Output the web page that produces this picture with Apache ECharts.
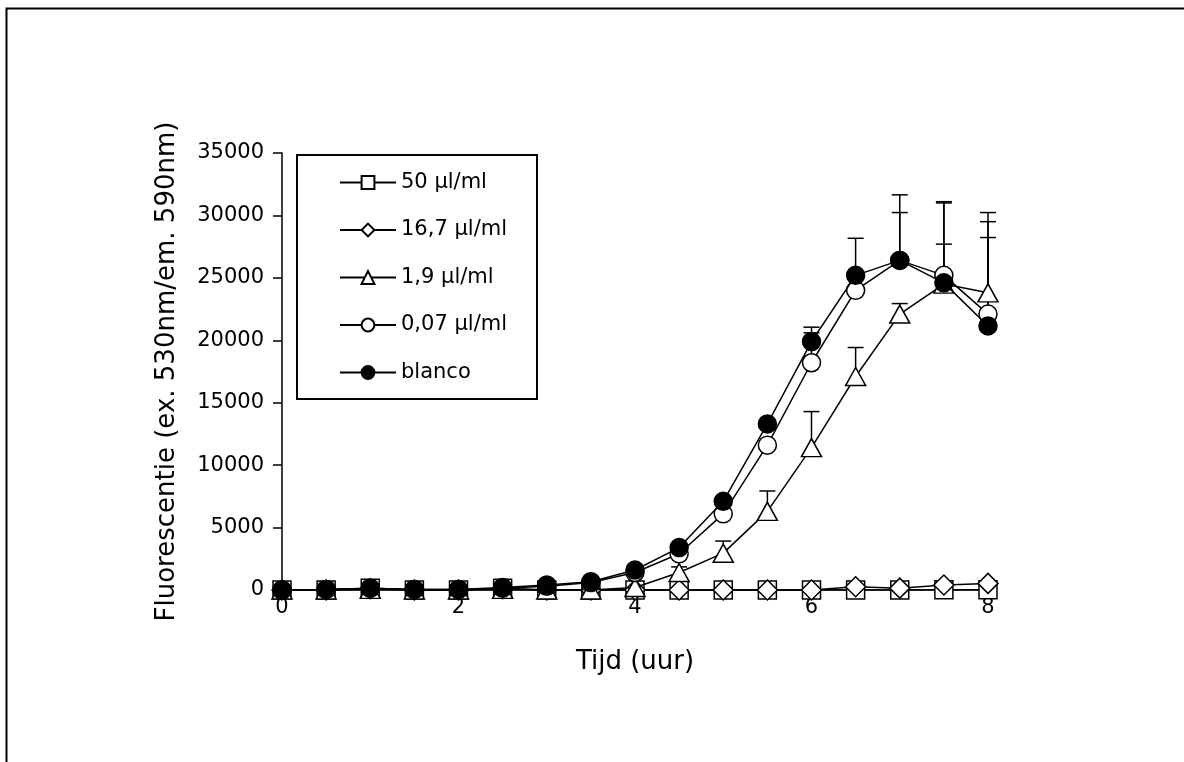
<!DOCTYPE html>
<html><head><meta charset="utf-8">
<script src="https://cdn.jsdelivr.net/npm/echarts@6/dist/echarts.min.js"></script>
<style>html,body{margin:0;padding:0;background:#fff}#c{width:1184px;height:762px}</style>
</head><body><div id="c"></div>
<script>
const times = [0,0.5,1,1.5,2,2.5,3,3.5,4,4.5,5,5.5,6,6.5,7,7.5,8];
const names = ['50 µl/ml','16,7 µl/ml','1,9 µl/ml','0,07 µl/ml','blanco'];
const v50  = [0,0,140,0,0,140,0,0,0,0,0,0,0,0,0,30,30];
const v16  = [0,0,100,0,0,100,0,0,0,0,0,0,0,260,150,400,530];
const v19  = [0,0,50,0,0,50,0,0,200,1400,2950,6300,11400,17100,22100,24500,23800];
const v007 = [0,50,150,50,50,150,300,600,1400,2900,6100,11600,18200,24000,26400,25200,22100];
const vBl  = [0,50,150,50,50,200,400,660,1600,3400,7100,13300,19900,25200,26400,24600,21150];
const e19  = [0,0,0,0,0,0,0,0,0,450,970,1630,2890,2320,840,3200,6430];
const e007 = [0,0,0,0,0,0,0,0,0,0,0,0,2400,1200,3830,5800,7400];
const eBl  = [0,0,0,0,0,0,0,0,0,0,0,0,1150,2970,5250,6500,7080];
const yTicks = [0,5000,10000,15000,20000,25000,30000,35000];

const FONT = 'DejaVu Sans';
const chart = echarts.init(document.getElementById('c'), null, {renderer:'canvas'});

function lineSeries(name, vals, symbol, size, fill, z) {
  return {
    name, type:'line', data: times.map((t,i)=>[t, vals[i]]),
    symbol, symbolSize: size, showAllSymbol: true, z,
    lineStyle:{color:'#000', width:1.5},
    itemStyle:{color: fill, borderColor:'#000', borderWidth:1.5, opacity:1},
    emphasis:{disabled:true}
  };
}
function errSeries(vals, errs, z) {
  return {
    type:'custom', z, silent:true,
    data: times.map((t,i)=>[t, vals[i], vals[i]+errs[i]]).filter(d=>d[2]>d[1]),
    encode:{x:0, y:[1,2]},
    renderItem(params, api){
      const p0 = api.coord([api.value(0), api.value(1)]);
      const p1 = api.coord([api.value(0), api.value(2)]);
      const w = 8;
      return {type:'group', children:[
        {type:'line', shape:{x1:p0[0],y1:p0[1],x2:p1[0],y2:p1[1]}, style:{stroke:'#000',lineWidth:1.5}},
        {type:'line', shape:{x1:p1[0]-w,y1:p1[1],x2:p1[0]+w,y2:p1[1]}, style:{stroke:'#000',lineWidth:1.5}}
      ]};
    }
  };
}

chart.setOption({
  animation:false,
  backgroundColor:'#fff',
  textStyle:{fontFamily:FONT, color:'#000'},
  grid:{left:282, right:1184-988, top:153, bottom:762-590, containLabel:false},
  xAxis:{
    type:'value', min:0, max:8, interval:2,
    axisLine:{lineStyle:{color:'#000', width:1.5}},
    axisTick:{show:false}, splitLine:{show:false},
    axisLabel:{fontSize:21, color:'#000', margin:7, fontFamily:FONT},
    name:'Tijd (uur)', nameLocation:'middle', nameGap:59,
    nameTextStyle:{fontSize:26, color:'#000', fontFamily:FONT}
  },
  yAxis:{
    type:'value', min:0, max:35000, interval:5000,
    axisLine:{show:true, lineStyle:{color:'#000', width:1.5}},
    axisTick:{show:true, length:9, lineStyle:{color:'#000', width:1.5}},
    splitLine:{show:false},
    axisLabel:{fontSize:21, color:'#000', margin:18, fontFamily:FONT,
      formatter: v => yTicks.includes(v) ? String(v) : ''},
    name:'Fluorescentie (ex. 530nm/em. 590nm)', nameLocation:'middle', nameGap:102,
    nameTextStyle:{fontSize:26, color:'#000', fontFamily:FONT}
  },
  legend:{
    orient:'vertical', left:339, top:172, padding:0,
    itemWidth:56, itemHeight:16, itemGap:26.5,
    textStyle:{fontSize:21, color:'#000', fontFamily:FONT},
    data: names
  },
  graphic:[
    {type:'rect', shape:{x:6.5, y:8.5, width:1400, height:1000}, style:{fill:null, stroke:'#000', lineWidth:2}, silent:true},
    {type:'rect', shape:{x:297, y:155, width:240, height:244}, style:{fill:null, stroke:'#000', lineWidth:2}, silent:true}
  ],
  series:[
    errSeries(v19, e19, 1),
    errSeries(v007, e007, 1),
    errSeries(vBl, eBl, 1),
    lineSeries(names[0], v50, 'rect', 18, '#fff', 2),
    lineSeries(names[1], v16, 'diamond', [20,20], '#fff', 3),
    lineSeries(names[2], v19, 'triangle', [20,18], '#fff', 4),
    lineSeries(names[3], v007, 'circle', 18, '#fff', 5),
    lineSeries(names[4], vBl, 'circle', 18, '#000', 6)
  ]
});
</script></body></html>
